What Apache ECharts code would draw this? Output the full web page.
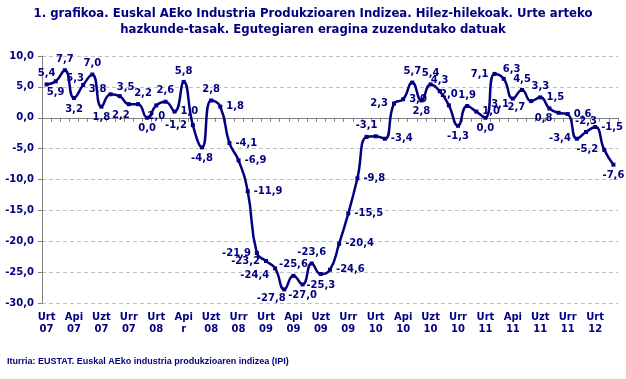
<!DOCTYPE html>
<html><head><meta charset="utf-8">
<script src="https://cdn.jsdelivr.net/npm/echarts@6/dist/echarts.min.js"></script>
<style>html,body{margin:0;padding:0;background:#fff}#c{width:626px;height:379px}</style>
</head><body><div id="c"></div>
<script>
const titleText = '1. grafikoa. Euskal AEko Industria Produkzioaren Indizea. Hilez-hilekoak. Urte arteko\nhazkunde-tasak. Egutegiaren eragina zuzendutako datuak';
const sourceText = 'Iturria: EUSTAT. Euskal AEko industria produkzioaren indizea (IPI)';
const categories = [
 'Urt\n07','Ots\n07','Mar\n07','Api\n07','Mai\n07','Eka\n07','Uzt\n07','Abu\n07','Ira\n07','Urr\n07','Aza\n07','Abe\n07',
 'Urt\n08','Ots\n08','Mar\n08','Api\nr','Mai\n08','Eka\n08','Uzt\n08','Abu\n08','Ira\n08','Urr\n08','Aza\n08','Abe\n08',
 'Urt\n09','Ots\n09','Mar\n09','Api\n09','Mai\n09','Eka\n09','Uzt\n09','Abu\n09','Ira\n09','Urr\n09','Aza\n09','Abe\n09',
 'Urt\n10','Ots\n10','Mar\n10','Api\n10','Mai\n10','Eka\n10','Uzt\n10','Abu\n10','Ira\n10','Urr\n10','Aza\n10','Abe\n10',
 'Urt\n11','Ots\n11','Mar\n11','Api\n11','Mai\n11','Eka\n11','Uzt\n11','Abu\n11','Ira\n11','Urr\n11','Aza\n11','Abe\n11',
 'Urt\n12','Ots\n12','Mar\n12'];
const values = [
 5.4,5.9,7.7,3.2,5.3,7.0,1.8,3.8,3.5,2.2,2.2,0.0,
 2.0,2.6,1.0,5.8,-1.2,-4.8,2.8,1.8,-4.1,-6.9,-11.9,-21.9,
 -23.2,-24.4,-27.8,-25.6,-27.0,-23.6,-25.3,-24.6,-20.4,-15.5,-9.8,-3.1,
 -3.0,-3.4,2.3,3.0,5.7,2.8,5.4,4.3,2.0,-1.3,1.9,1.0,
 0.0,7.1,6.3,3.1,4.5,2.7,3.3,1.5,0.8,0.6,-3.4,-2.3,
 -1.5,-5.2,-7.6];
const yTicks = {min:-30, max:10, step:5};

// label placement (style only)
const labelPos = [
 'top','bottom','top','bottom','top','top','bottom','left','top','bottom','top','bottom',
 'bottom','top','right','top','left','bottom','top','right','right','right','right','left',
 'left','left','bottom','top','bottom','top','bottom','right','right','right','right','top',
 null,'right','left','right','top','bottom','top','top','top','bottom','top','right',
 'bottom','left','top','left','top','left','top','top','left','right','left','top',
 'right','left','bottom'];
const labelOff = {
 4:[-8,4], 7:[2,-5], 8:[6,2], 9:[-8,0], 10:[5,0],
 25:[0,7], 26:[-13,-2],
 50:[8,2], 51:[2,6], 53:[0,6], 55:[6,0], 56:[0,6]
};

const navy = '#000080';
const fmt = v => v.toFixed(1).replace('.', ',');
const FONT = 'DejaVu Sans';

const data = values.map((v,i) => {
  const p = labelPos[i];
  if (!p) return {value:v, label:{show:false}};
  const lab = {position:p};
  if (labelOff[i]) lab.offset = labelOff[i];
  return {value:v, label:lab};
});

const chart = echarts.init(document.getElementById('c'), null, {renderer:'canvas'});
chart.setOption({
  animation:false,
  textStyle:{fontFamily:FONT},
  title:[{
    text:titleText, left:'center', top:1,
    textStyle:{color:navy, fontSize:11.7, fontWeight:'bold', fontFamily:FONT, lineHeight:16}
  },{
    text:sourceText, left:2, top:352,
    textStyle:{color:navy, fontSize:9, fontWeight:'bold', fontFamily:'Liberation Sans'}
  }],
  grid:{left:42, right:8, top:56, bottom:76},
  xAxis:[{
    type:'category', data:categories, boundaryGap:true,
    axisLine:{show:false, onZero:false}, axisTick:{show:false},
    axisLabel:{interval:2, color:navy, fontSize:10, fontWeight:'bold', fontFamily:FONT, lineHeight:12, margin:8},
    splitLine:{show:false}
  },{
    type:'category', data:categories, boundaryGap:true, position:'top',
    axisLine:{show:true, onZero:true, lineStyle:{color:'#808080', width:1}},
    axisTick:{show:true, interval:0, inside:true, length:4, lineStyle:{color:'#808080'}},
    axisLabel:{show:false}, splitLine:{show:false}
  }],
  yAxis:{
    type:'value', min:yTicks.min, max:yTicks.max, interval:yTicks.step,
    axisLine:{show:true, lineStyle:{color:'#808080', width:1}},
    axisTick:{show:true, length:4, lineStyle:{color:'#808080'}},
    axisLabel:{color:navy, fontSize:10, fontWeight:'bold', fontFamily:FONT, formatter:v=>fmt(v), margin:8},
    splitLine:{show:true, lineStyle:{color:'#c0c0c0', type:[4,3], width:1}}
  },
  series:[{
    type:'line', xAxisIndex:0, data:data, smooth:0.5,
    symbol:'rect', symbolSize:4, showAllSymbol:true,
    lineStyle:{color:navy, width:2.5}, itemStyle:{color:navy},
    label:{show:true, color:navy, fontSize:10, fontWeight:'bold', fontFamily:FONT, distance:4,
      formatter:p=>fmt(p.value)}
  }]
});
</script></body></html>
